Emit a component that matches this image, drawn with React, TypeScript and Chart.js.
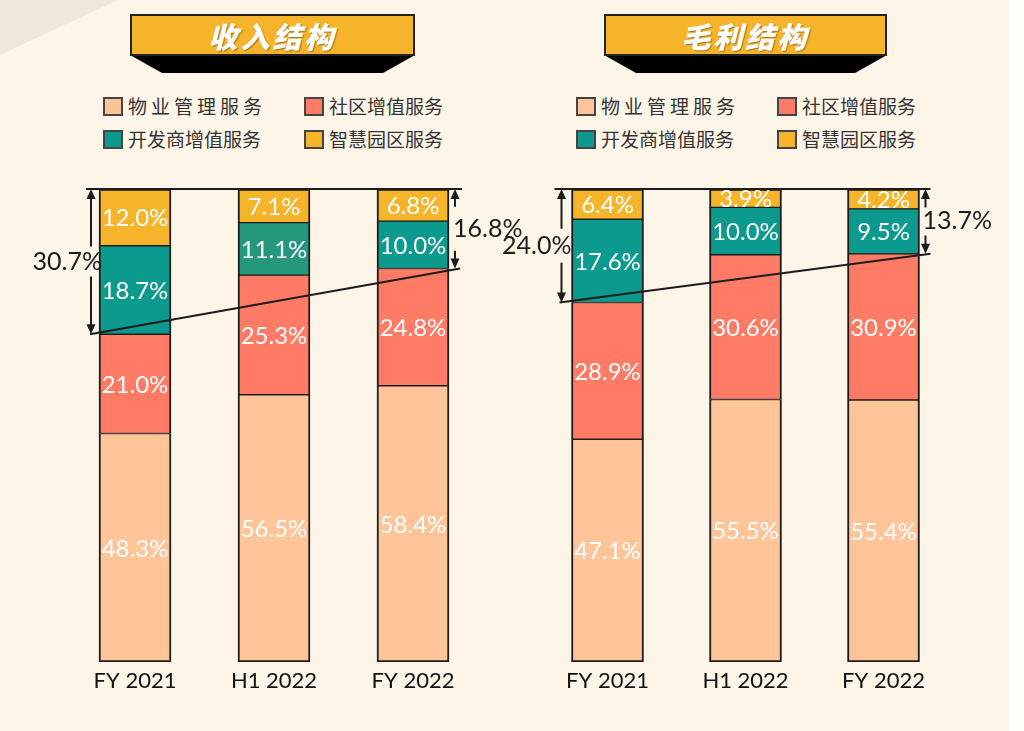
import React, { useEffect, useRef } from "react";
import { Chart, registerables } from "chart.js";

Chart.register(...registerables);

// ---------- data ----------
const categories = ["FY 2021", "H1 2022", "FY 2022"];
const seriesNames = ["物业管理服务", "社区增值服务", "开发商增值服务", "智慧园区服务"];
const titles = ["收入结构", "毛利结构"];

const revenueProperty = [48.3, 56.5, 58.4];
const revenueCommunity = [21.0, 25.3, 24.8];
const revenueDeveloper = [18.7, 11.1, 10.0];
const revenueSmart = [12.0, 7.1, 6.8];
const revenueBracketLabels = ["30.7%", "16.8%"];

const profitProperty = [47.1, 55.5, 55.4];
const profitCommunity = [28.9, 30.6, 30.9];
const profitDeveloper = [17.6, 10.0, 9.5];
const profitSmart = [6.4, 3.9, 4.2];
const profitBracketLabels = ["24.0%", "13.7%"];

// ---------- styles ----------
const PEACH = "#FFC598";
const SALMON = "#FF7B65";
const TEAL = "#0B9A8D";
const TEAL_ALT = "#25977C";
const YELLOW = "#F6B42B";
const INK = "#1c1c1c";
const BG = "#FDF5E7";

type ChartSpec = {
  series: number[][];
  colors: (string | string[])[];
  bracketLabels: string[];
  canvasLeft: number;
  canvasWidth: number;
  padLeft: number;
  padRight: number;
  topExt: [number, number];
  slopeExt: [number, number];
  arrowOff: [number, number];
  labelOff: [number, number];
  gaps: [number, number];
};

const CANVAS_H = 731;
const BAR_W = 72;

function StackChart({ spec }: { spec: ChartSpec }) {
  const ref = useRef<HTMLCanvasElement | null>(null);
  useEffect(() => {
    if (!ref.current) return;
    const n = spec.series.length;
    const labelsPlugin = {
      id: "segLabels",
      afterDatasetsDraw(chart: any) {
        const ctx = chart.ctx as CanvasRenderingContext2D;
        ctx.save();
        // segment value labels
        ctx.fillStyle = "#ffffff";
        ctx.font = "24px Lato";
        ctx.textAlign = "center";
        ctx.textBaseline = "middle";
        chart.data.datasets.forEach((ds: any, i: number) => {
          const meta = chart.getDatasetMeta(i);
          meta.data.forEach((el: any, j: number) => {
            const v = ds.data[j] as number;
            ctx.fillText(v.toFixed(1) + "%", el.x, (el.y + el.base) / 2 + 1);
          });
        });
        // brackets
        const xs = chart.scales.x;
        const ys = chart.scales.y;
        const last = categories.length - 1;
        const xL = xs.getPixelForValue(0) - BAR_W / 2;
        const xR = xs.getPixelForValue(last) + BAR_W / 2;
        const yTop = ys.getPixelForValue(100);
        const yA = ys.getPixelForValue(spec.series[0][0] + spec.series[1][0]);
        const yB = ys.getPixelForValue(spec.series[0][last] + spec.series[1][last]);
        ctx.strokeStyle = INK;
        ctx.fillStyle = INK;
        ctx.lineWidth = 2;
        ctx.beginPath();
        ctx.moveTo(xL - spec.topExt[0], yTop);
        ctx.lineTo(xR + spec.topExt[1], yTop);
        ctx.moveTo(xL - spec.slopeExt[0], yA);
        ctx.lineTo(xR + spec.slopeExt[1], yB);
        ctx.stroke();
        const bracket = (x: number, y1: number, y2: number, label: string, align: CanvasTextAlign, tx: number, gap: number) => {
          const mid = (y1 + y2) / 2;
          ctx.beginPath();
          ctx.moveTo(x, y1 + 8);
          ctx.lineTo(x, mid - gap);
          ctx.moveTo(x, mid + gap);
          ctx.lineTo(x, y2 - 8);
          ctx.stroke();
          ctx.beginPath();
          ctx.moveTo(x, y1);
          ctx.lineTo(x - 4.5, y1 + 10);
          ctx.lineTo(x + 4.5, y1 + 10);
          ctx.closePath();
          ctx.fill();
          ctx.beginPath();
          ctx.moveTo(x, y2);
          ctx.lineTo(x - 4.5, y2 - 10);
          ctx.lineTo(x + 4.5, y2 - 10);
          ctx.closePath();
          ctx.fill();
          ctx.font = "25px Lato";
          ctx.textAlign = align;
          ctx.textBaseline = "middle";
          ctx.fillText(label, tx, mid);
        };
        const ax0 = xL - spec.arrowOff[0];
        const ax1 = xR + spec.arrowOff[1];
        bracket(ax0, yTop, yA, spec.bracketLabels[0], "right", ax0 + spec.labelOff[0], spec.gaps[0]);
        bracket(ax1, yTop, yB, spec.bracketLabels[1], "left", ax1 + spec.labelOff[1], spec.gaps[1]);
        ctx.restore();
      },
    };
    const chart = new Chart(ref.current, {
      type: "bar",
      data: {
        labels: categories,
        datasets: spec.series.map((d, i) => ({
          label: seriesNames[i],
          data: d,
          backgroundColor: spec.colors[i] as any,
          borderColor: INK,
          borderWidth: { left: 2, right: 2, top: i === n - 1 ? 2 : 1, bottom: i === 0 ? 2 : 1 },
          borderSkipped: false,
          barThickness: BAR_W,
        })),
      },
      options: {
        responsive: false,
        animation: false,
        layout: { padding: { left: spec.padLeft, right: spec.padRight, top: 189, bottom: 31 } },
        plugins: { legend: { display: false }, tooltip: { enabled: false } },
        scales: {
          x: {
            stacked: true,
            grid: { display: false, drawTicks: false },
            border: { display: false },
            ticks: { color: "#111", font: { family: "Lato", size: 22, lineHeight: 1 }, padding: 8 },
          },
          y: { stacked: true, display: false, min: 0, max: 100 },
        },
      },
      plugins: [labelsPlugin],
    } as any);
    return () => chart.destroy();
  }, [spec]);
  return (
    <canvas
      ref={ref}
      width={spec.canvasWidth}
      height={CANVAS_H}
      style={{ position: "absolute", left: spec.canvasLeft, top: 0, width: spec.canvasWidth, height: CANVAS_H }}
    />
  );
}

const legendColors = [PEACH, SALMON, TEAL, YELLOW];

function Banner({ left, width, text }: { left: number; width: number; text: string }) {
  return (
    <>
      <div
        style={{
          position: "absolute",
          left,
          top: 55,
          width,
          height: 18,
          background: "#000",
          clipPath: "polygon(0 0, 100% 0, calc(100% - 32px) 100%, 32px 100%)",
        }}
      />
      <div
        style={{
          position: "absolute",
          left,
          top: 14,
          width,
          height: 42,
          boxSizing: "border-box",
          background: "#F5B42A",
          border: "2px solid #222",
          display: "flex",
          alignItems: "center",
          justifyContent: "center",
          color: "#fff",
          fontFamily: "'Noto Sans CJK SC', sans-serif",
          fontWeight: 900,
          fontStyle: "italic",
          fontSize: 29,
          letterSpacing: 3,
          textShadow: "1px 1px 1px rgba(0,0,0,0.35)",
        }}
      >
        {text}
      </div>
    </>
  );
}

function Legend({ offset }: { offset: number }) {
  const pos = [
    [103, 97],
    [304, 97],
    [103, 130],
    [304, 130],
  ];
  const order = [0, 1, 2, 3];
  return (
    <>
      {order.map((i) => (
        <React.Fragment key={i}>
          <div
            style={{
              position: "absolute",
              left: pos[i][0] + offset,
              top: pos[i][1],
              width: 20,
              height: 19,
              boxSizing: "border-box",
              background: legendColors[i],
              border: "2px solid #444",
            }}
          />
          <div
            style={{
              position: "absolute",
              left: pos[i][0] + offset + 25,
              top: pos[i][1] - 3,
              height: 24,
              lineHeight: "24px",
              fontSize: 19,
              color: "#333",
              whiteSpace: "nowrap",
              fontFamily: "'Noto Sans CJK SC', sans-serif",
              letterSpacing: i === 0 ? 4 : 0,
            }}
          >
            {seriesNames[i]}
          </div>
        </React.Fragment>
      ))}
    </>
  );
}

const revenueSpec: ChartSpec = {
  series: [revenueProperty, revenueCommunity, revenueDeveloper, revenueSmart],
  colors: [PEACH, SALMON, [TEAL, TEAL_ALT, TEAL], YELLOW],
  bracketLabels: revenueBracketLabels,
  canvasLeft: 0,
  canvasWidth: 530,
  padLeft: 65.5,
  padRight: 47.5,
  topExt: [13, 13],
  slopeExt: [9, 11],
  arrowOff: [8, 6],
  labelOff: [11, -2],
  gaps: [15, 22],
};

const profitSpec: ChartSpec = {
  series: [profitProperty, profitCommunity, profitDeveloper, profitSmart],
  colors: [PEACH, SALMON, TEAL, YELLOW],
  bracketLabels: profitBracketLabels,
  canvasLeft: 490,
  canvasWidth: 519,
  padLeft: 48.5,
  padRight: 56.5,
  topExt: [17, 11],
  slopeExt: [12, 11],
  arrowOff: [10, 6],
  labelOff: [10, -3],
  gaps: [17, 14],
};

export default function App() {
  return (
    <div style={{ position: "fixed", left: 0, top: 0, width: 1024, height: 731, background: "#fff", overflow: "hidden" }}>
      <div style={{ position: "absolute", left: 0, top: 0, width: 1009, height: 731, background: BG }}>
        <div
          style={{
            position: "absolute",
            left: 0,
            top: 0,
            width: 118,
            height: 55,
            background: "#EFE7DB",
            clipPath: "polygon(0 0, 100% 0, 0 100%)",
          }}
        />
        <Banner left={130} width={285} text={titles[0]} />
        <Banner left={604} width={283} text={titles[1]} />
        <Legend offset={0} />
        <Legend offset={473} />
        <StackChart spec={revenueSpec} />
        <StackChart spec={profitSpec} />
      </div>
    </div>
  );
}
